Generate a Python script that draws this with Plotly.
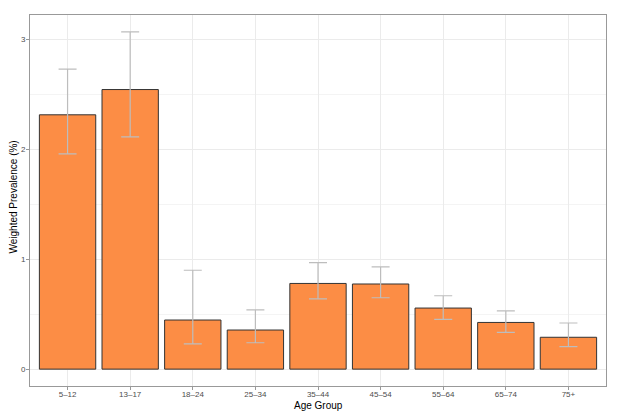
import plotly.graph_objects as go

age_groups = ["5\u201312", "13\u201317", "18\u201324", "25\u201334", "35\u201344", "45\u201354", "55\u201364", "65\u201374", "75+"]
prevalence = [2.315, 2.545, 0.447, 0.356, 0.78, 0.775, 0.556, 0.425, 0.29]
ci_upper = [2.73, 3.07, 0.90, 0.54, 0.97, 0.93, 0.668, 0.53, 0.42]
ci_lower = [1.96, 2.115, 0.23, 0.24, 0.64, 0.65, 0.453, 0.335, 0.205]

err_plus = [u - p for u, p in zip(ci_upper, prevalence)]
err_minus = [p - l for p, l in zip(prevalence, ci_lower)]

fig = go.Figure()
fig.add_trace(go.Bar(
    x=list(range(len(age_groups))),
    y=prevalence,
    width=0.9,
    marker=dict(color="#FC8D45", line=dict(color="#333333", width=1)),
    error_y=dict(type="data", symmetric=False, array=err_plus, arrayminus=err_minus,
                 color="#BDBDBD", thickness=1.2, width=9),
    showlegend=False,
))

font_family = "Liberation Sans, Arial, sans-serif"
fig.update_layout(
    width=624, height=414,
    margin=dict(l=30, r=18, t=15, b=28),
    plot_bgcolor="white", paper_bgcolor="white",
    font=dict(family=font_family, color="#4D4D4D", size=8),
    bargap=0.1,
    annotations=[
        dict(text="Age Group", xref="paper", yref="paper", x=0.5, y=0,
             xanchor="center", yanchor="middle", yshift=-19, showarrow=False,
             font=dict(size=10, color="black")),
        dict(text="Weighted Prevalence (%)", xref="paper", yref="paper", x=0, y=0.5,
             xanchor="center", yanchor="middle", xshift=-17, yshift=3, textangle=-90, showarrow=False,
             font=dict(size=10, color="black")),
    ],
)
fig.update_xaxes(
    automargin=False,
    tickmode="array", tickvals=list(range(len(age_groups))), ticktext=age_groups,
    range=[-0.6, len(age_groups) - 0.4],
    showgrid=True, gridcolor="#EBEBEB", gridwidth=1,
    ticks="outside", ticklen=3, tickcolor="#999999",
    showline=True, linecolor="#999999", mirror=True, linewidth=1,
    zeroline=False,
    ticklabelstandoff=-3,
    tickfont=dict(size=8, color="#4D4D4D"),
)
fig.update_yaxes(
    automargin=False,
    range=[-0.1535, 3.2235],
    tickvals=[0, 1, 2, 3],
    showgrid=True, gridcolor="#EBEBEB", gridwidth=1,
    minor=dict(tickvals=[0.5, 1.5, 2.5], showgrid=True, gridcolor="#F4F4F4", gridwidth=1, ticks=""),
    ticks="outside", ticklen=3, tickcolor="#999999",
    showline=True, linecolor="#999999", mirror=True, linewidth=1,
    zeroline=False,
    ticklabelstandoff=-1,
    tickfont=dict(size=8, color="#4D4D4D"),
)

fig.write_html("out.html", config={"displayModeBar": False},
               post_script="document.body.style.margin='0';")
